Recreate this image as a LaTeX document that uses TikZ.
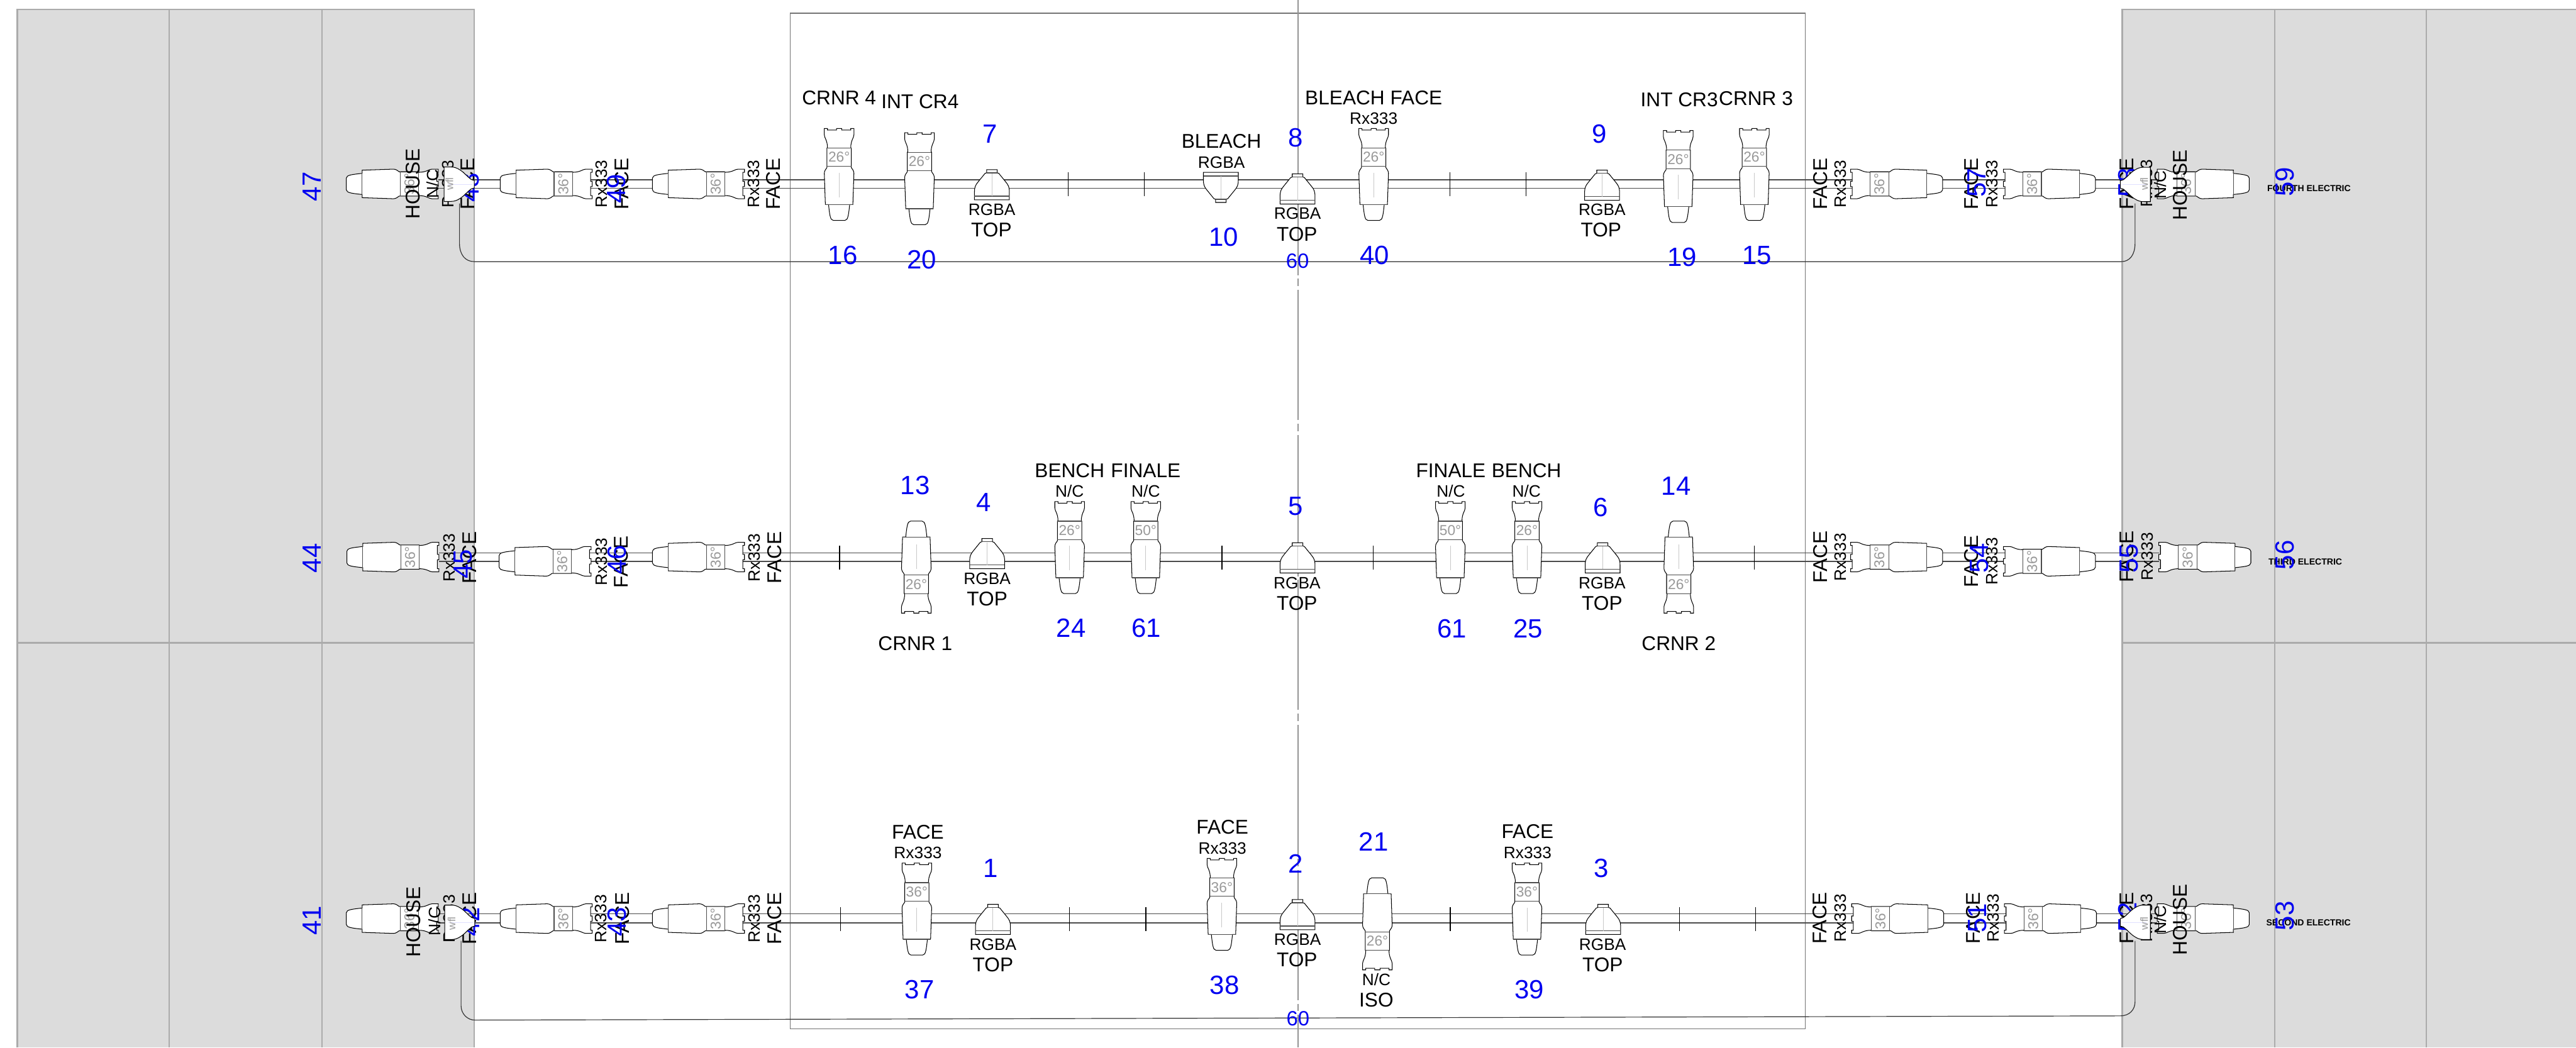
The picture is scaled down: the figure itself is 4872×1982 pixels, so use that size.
\documentclass[tikz,border=0pt]{standalone}
\usepackage{fontspec}
\setmainfont{Liberation Sans}
\definecolor{zone}{HTML}{DCDCDC}
\definecolor{zoneline}{HTML}{ABABAB}
\definecolor{anglegray}{HTML}{999999}
\definecolor{axisgray}{HTML}{C8C8C8}
\definecolor{railcol}{HTML}{4A4A4A}
\definecolor{numblue}{HTML}{0000F0}
\tikzset{
  zonediv/.style={draw=zoneline,line width=0.85pt},
  stagebox/.style={draw=black!55,line width=0.35pt},
  centreline/.style={draw=black!42,line width=0.6pt,dash pattern=on 70pt off 2pt on 4pt off 2pt},
  cableline/.style={draw=black!80,line width=0.4pt},
  railline/.style={draw=railcol,line width=0.45pt},
  tickline/.style={draw=black,line width=0.45pt},
  fixbody/.style={fill=white,draw=black,line width=0.35pt},
  fixrib/.style={draw=black!70,line width=0.4pt},
  txtbase/.style={inner sep=0pt,outer sep=0pt,text=black},
  big/.style={txtbase,font=\fontsize{10.7}{12}\selectfont},
  small/.style={txtbase,font=\fontsize{8.9}{10}\selectfont},
  bigr/.style={big,rotate=90},
  smallr/.style={small,rotate=90},
  num/.style={txtbase,text=numblue,font=\fontsize{14.2}{16}\selectfont},
  numr/.style={num,rotate=90},
  numsmall/.style={txtbase,text=numblue,font=\fontsize{11.1}{13}\selectfont},
  elecname/.style={txtbase,font=\fontsize{4.75}{6}\bfseries\selectfont},
  anglelabel/.style={inner sep=0pt,outer sep=0pt,text=anglegray,font=\fontsize{7.7}{9}\selectfont},
  wfllabel/.style={inner sep=0pt,outer sep=0pt,text=anglegray,font=\fontsize{5.7}{7}\selectfont,rotate=90},
}
\newcounter{lab}
\newcommand{\putlabel}[4]{\stepcounter{lab}\node[#1] (lab\arabic{lab}) at (#2,#3) {#4};}
% moving light: x, y of yoke end, rotation, beam angle, text rotation, axis colour
\newcommand{\fixt}[6]{%
  \stepcounter{lab}%
  \begin{scope}[shift={(#1,#2)},rotate=#3]
    \draw[fixbody] (-28,0)--(-22,0)--(-22,3)--(-5,3)--(-5,0)--(5,0)--(5,3)--(22,3)--(22,0)--(28,0)--(28,12)
      .. controls (28,18) and (22,22) .. (22,37) -- (23,37) -- (23,74)
      .. controls (25,77) and (28,80) .. (28,85) -- (26,144) -- (20,144)
      .. controls (18,162) and (17,174) .. (11,174) -- (-11,174)
      .. controls (-17,174) and (-18,162) .. (-20,144) -- (-26,144) -- (-28,85)
      .. controls (-28,80) and (-25,77) .. (-23,74) -- (-23,37) -- (-22,37)
      .. controls (-22,22) and (-28,18) .. (-28,12) -- cycle;
    \draw[fixrib] (-23,37)--(23,37) (-23,72)--(23,72) (-26,144)--(26,144);
    \draw[draw=#6,line width=0.3pt] (0,84)--(0,130);
    \node[anglelabel,rotate=#5] (lab\arabic{lab}) at (0,54.5) {#4};
  \end{scope}}
% top light: x, y of neck end, rotation
\newcommand{\topfix}[3]{%
  \begin{scope}[shift={(#1,#2)},rotate=#3]
    \draw[fixbody] (-10,0)--(10,0)--(10,6)--(13,7)--(26,23)
      .. controls (31,29) and (33,33) .. (33,42) -- (33,57) -- (-33,57) -- (-33,42)
      .. controls (-33,33) and (-31,29) .. (-26,23) -- (-13,7) -- (-10,6) -- cycle;
    \draw[fixrib] (-33,50)--(33,50) (-10,6)--(10,6);
    \draw[draw=axisgray,line width=0.3pt] (0,7)--(0,50);
  \end{scope}}
% wfl unit: x, y of nose end, rotation
\newcommand{\wflfix}[3]{%
  \begin{scope}[shift={(#1,#2)},rotate=#3]
    \draw[fixbody] (-7,0)--(7,0)--(9,6)
      .. controls (14,13) and (22,19) .. (27,27)
      .. controls (31,33) and (32.5,38) .. (32.5,44) -- (32.5,57) -- (-32.5,57) -- (-32.5,44)
      .. controls (-32.5,38) and (-31,33) .. (-27,27)
      .. controls (-22,19) and (-14,13) .. (-9,6) -- cycle;
    \draw[draw=blue!12,line width=0.3pt] (0,4)--(0,50);
  \end{scope}}
\begin{document}
\begin{tikzpicture}[x=0.01cm,y=-0.01cm]
\useasboundingbox (0,0) rectangle (4872,1982);
% house zones
\fill[zone] (32.5,18) rectangle (897,1982);
\fill[zone] (4013.5,18) rectangle (4872,1982);
\draw[zonediv] (32.5,1982)--(32.5,18)--(897,18)--(897,1982);
\draw[zonediv] (320,18)--(320,1982) (609,18)--(609,1982);
\draw[zonediv] (32.5,1216)--(897,1216);
\draw[zonediv] (4872,18)--(4013.5,18)--(4013.5,1982);
\draw[zonediv] (4302,18)--(4302,1982) (4589,18)--(4589,1982);
\draw[zonediv] (4013.5,1216)--(4872,1216);
% stage box
\draw[stagebox] (1494,25) rectangle (3414,1946);
% cables
\coordinate (cTL) at (869,385); \coordinate (cTR) at (4038,385);
\coordinate (cBL) at (872,1780); \coordinate (cBR) at (4038,1780);
\draw[cableline] (cTL) -- (869,460) .. controls (869,482) and (880,495) .. (897,495) -- (4012,495) .. controls (4028,495) and (4038,482) .. (4038,460) -- (cTR);
\draw[cableline] (cBL) -- (872,1903) .. controls (872,1918) and (884,1930) .. (898,1930) -- (4010,1922) .. controls (4028,1922) and (4038,1910) .. (4038,1895) -- (cBR);
% centre line
\draw[centreline] (2455,0)--(2455,1982);
% rails
\coordinate (rTa) at (829,340); \coordinate (rTb) at (4080,340);
\coordinate (rTc) at (829,356); \coordinate (rTd) at (4080,356);
\coordinate (rMa) at (830,1046); \coordinate (rMb) at (4083,1046);
\coordinate (rMc) at (830,1062); \coordinate (rMd) at (4083,1062);
\coordinate (rBa) at (829,1729); \coordinate (rBb) at (4080,1729);
\coordinate (rBc) at (829,1746); \coordinate (rBd) at (4080,1746);
\draw[railline] (rTa)--(rTb) (rTc)--(rTd) (rMa)--(rMb) (rMc)--(rMd) (rBa)--(rBb) (rBc)--(rBd);
% ticks
\foreach \tx in {2020,2164,2742,2886} {\draw[tickline] (\tx,326)--(\tx,371);}
\foreach \tx in {1588,2311,2597,3318} {\draw[tickline] (\tx,1032)--(\tx,1078);}
\foreach \tx in {1590,2023,2167,2743,3176,3320} {\draw[tickline] (\tx,1716)--(\tx,1761);}
% top row fixtures
\fixt{1587}{243}{0}{26°}{0}{axisgray}
\fixt{1739}{251}{0}{26°}{0}{white}
\fixt{2598}{243}{0}{26°}{0}{axisgray}
\fixt{3174}{247}{0}{26°}{0}{axisgray}
\fixt{3318}{243}{0}{26°}{0}{axisgray}
\topfix{1876}{321}{0}
\topfix{2309}{383}{180}
\topfix{2454}{329}{0}
\topfix{3030}{322}{0}
\foreach \fx in {829,1120,1408} {\fixt{\fx}{348}{-90}{36°}{90}{white}}
\foreach \fx in {3500,3789,4080} {\fixt{\fx}{348}{90}{36°}{90}{white}}
% middle row fixtures
\fixt{1733}{1160}{180}{26°}{0}{axisgray}
\fixt{2023}{949}{0}{26°}{0}{axisgray}
\fixt{2167}{949}{0}{50°}{0}{axisgray}
\fixt{2743}{949}{0}{50°}{0}{axisgray}
\fixt{2888}{949}{0}{26°}{0}{axisgray}
\fixt{3175}{1160}{180}{26°}{0}{axisgray}
\topfix{1867}{1019}{0}
\topfix{2454}{1027}{0}
\topfix{3031}{1027}{0}
\fixt{830}{1054}{-90}{36°}{90}{white}
\fixt{1118}{1062}{-90}{36°}{90}{white}
\fixt{1408}{1054}{-90}{36°}{90}{white}
\fixt{3500}{1054}{90}{36°}{90}{white}
\fixt{3789}{1062}{90}{36°}{90}{white}
\fixt{4083}{1054}{90}{36°}{90}{white}
% bottom row fixtures
\fixt{1734}{1633}{0}{36°}{0}{axisgray}
\fixt{2311}{1624}{0}{36°}{0}{axisgray}
\fixt{2605}{1835}{180}{26°}{0}{white}
\fixt{2888}{1633}{0}{36°}{0}{axisgray}
\topfix{1878}{1711}{0}
\topfix{2454}{1702}{0}
\topfix{3032}{1711}{0}
\foreach \fx in {829,1120,1408} {\fixt{\fx}{1738}{-90}{36°}{90}{white}}
\foreach \fx in {3502,3791,4080} {\fixt{\fx}{1738}{90}{36°}{90}{white}}
% top row labels
\putlabel{big}{1587}{185}{CRNR 4}
\putlabel{big}{1740}{192}{INT CR4}
\putlabel{big}{2310}{267}{BLEACH}
\putlabel{big}{2598}{185}{BLEACH FACE}
\putlabel{big}{3176}{189}{INT CR3}
\putlabel{big}{3321}{186}{CRNR 3}
\putlabel{small}{2310}{307}{RGBA}
\putlabel{small}{2598}{224}{Rx333}
\putlabel{small}{1876}{397}{RGBA}
\putlabel{big}{1875}{435}{TOP}
\putlabel{small}{2454}{404}{RGBA}
\putlabel{big}{2453}{443}{TOP}
\putlabel{small}{3030}{397}{RGBA}
\putlabel{big}{3028}{435}{TOP}
\putlabel{bigr}{781}{348}{HOUSE}
\putlabel{smallr}{818}{348}{N/C}
\putlabel{smallr}{848}{348}{Rx333}
\putlabel{bigr}{885}{348}{FACE}
\putlabel{smallr}{1138}{348}{Rx333}
\putlabel{bigr}{1176}{348}{FACE}
\putlabel{smallr}{1425}{348}{Rx333}
\putlabel{bigr}{1462}{348}{FACE}
\putlabel{bigr}{3442.5}{348}{FACE}
\putlabel{smallr}{3481}{348}{Rx333}
\putlabel{bigr}{3729}{348}{FACE}
\putlabel{smallr}{3768}{348}{Rx333}
\putlabel{bigr}{4022}{348}{FACE}
\putlabel{smallr}{4060}{347}{Rx333}
\putlabel{smallr}{4086}{350}{N/C}
\putlabel{bigr}{4123}{350}{HOUSE}
\putlabel{elecname}{4367}{357}{FOURTH ELECTRIC}
% middle row labels
\putlabel{big}{2023}{891}{BENCH}
\putlabel{big}{2167}{891}{FINALE}
\putlabel{small}{2023}{929}{N/C}
\putlabel{small}{2167}{929}{N/C}
\putlabel{big}{2744}{891}{FINALE}
\putlabel{big}{2887}{891}{BENCH}
\putlabel{small}{2744}{929}{N/C}
\putlabel{small}{2887}{929}{N/C}
\putlabel{small}{1867}{1095}{RGBA}
\putlabel{big}{1867}{1133}{TOP}
\putlabel{small}{2453}{1103}{RGBA}
\putlabel{big}{2453}{1141}{TOP}
\putlabel{small}{3030}{1103}{RGBA}
\putlabel{big}{3030}{1141}{TOP}
\putlabel{big}{1731}{1217}{CRNR 1}
\putlabel{big}{3175}{1218}{CRNR 2}
\putlabel{smallr}{849.5}{1055}{Rx333}
\putlabel{bigr}{888}{1055}{FACE}
\putlabel{smallr}{1138}{1063}{Rx333}
\putlabel{bigr}{1175}{1063}{FACE}
\putlabel{smallr}{1427}{1055}{Rx333}
\putlabel{bigr}{1465}{1055}{FACE}
\putlabel{bigr}{3442.5}{1054}{FACE}
\putlabel{smallr}{3481}{1054}{Rx333}
\putlabel{bigr}{3729}{1062}{FACE}
\putlabel{smallr}{3768}{1062}{Rx333}
\putlabel{bigr}{4022}{1053}{FACE}
\putlabel{smallr}{4061}{1053}{Rx333}
\putlabel{elecname}{4360}{1063}{THIRD ELECTRIC}
% bottom row labels
\putlabel{big}{1736}{1574}{FACE}
\putlabel{small}{1736}{1613}{Rx333}
\putlabel{big}{2312}{1565}{FACE}
\putlabel{small}{2312}{1605}{Rx333}
\putlabel{big}{2889}{1573}{FACE}
\putlabel{small}{2889}{1613}{Rx333}
\putlabel{small}{1878}{1787}{RGBA}
\putlabel{big}{1878}{1825}{TOP}
\putlabel{small}{2454}{1778}{RGBA}
\putlabel{big}{2453}{1816}{TOP}
\putlabel{small}{3031}{1787}{RGBA}
\putlabel{big}{3031}{1825}{TOP}
\putlabel{small}{2603}{1853}{N/C}
\putlabel{big}{2603}{1892}{ISO}
\putlabel{bigr}{782}{1744}{HOUSE}
\putlabel{smallr}{822}{1743}{N/C}
\putlabel{smallr}{850}{1738}{Rx333}
\putlabel{bigr}{888}{1738}{FACE}
\putlabel{smallr}{1137}{1738}{Rx333}
\putlabel{bigr}{1177}{1738}{FACE}
\putlabel{smallr}{1427}{1738}{Rx333}
\putlabel{bigr}{1465}{1738}{FACE}
\putlabel{bigr}{3442}{1737}{FACE}
\putlabel{smallr}{3481}{1737}{Rx333}
\putlabel{bigr}{3732}{1737}{FACE}
\putlabel{smallr}{3770}{1737}{Rx333}
\putlabel{bigr}{4022}{1737}{FACE}
\putlabel{smallr}{4060}{1737}{Rx333}
\putlabel{smallr}{4086}{1740}{N/C}
\putlabel{bigr}{4123}{1740}{HOUSE}
\putlabel{elecname}{4366}{1746}{SECOND ELECTRIC}
% channel numbers, top row
\putlabel{num}{1872}{253}{7}
\putlabel{num}{2450}{261}{8}
\putlabel{num}{3025}{253}{9}
\putlabel{num}{2314}{449}{10}
\putlabel{num}{1594}{483}{16}
\putlabel{num}{1743}{491}{20}
\putlabel{num}{2600}{483}{40}
\putlabel{num}{3181}{486}{19}
\putlabel{num}{3323}{483}{15}
\putlabel{numsmall}{2454}{494}{60}
\putlabel{numr}{590}{353}{47}
\putlabel{numr}{888}{355}{48}
\putlabel{numr}{1166}{357}{49}
\putlabel{numr}{3739}{345}{57}
\putlabel{numr}{4024}{345}{58}
\putlabel{numr}{4321}{344}{59}
% channel numbers, middle row
\putlabel{num}{1731}{918}{13}
\putlabel{num}{1861}{951}{4}
\putlabel{num}{2450}{958}{5}
\putlabel{num}{3027}{960}{6}
\putlabel{num}{3170}{920}{14}
\putlabel{num}{2026}{1188}{24}
\putlabel{num}{2168}{1188}{61}
\putlabel{num}{2746}{1190}{61}
\putlabel{num}{2890}{1190}{25}
\putlabel{numr}{590}{1056}{44}
\putlabel{numr}{876}{1067}{45}
\putlabel{numr}{1167}{1059}{46}
\putlabel{numr}{3744}{1056}{54}
\putlabel{numr}{4027}{1057}{55}
\putlabel{numr}{4321}{1050}{56}
% channel numbers, bottom row
\putlabel{num}{1874}{1643}{1}
\putlabel{num}{2450}{1634}{2}
\putlabel{num}{3028}{1643}{3}
\putlabel{num}{2598}{1593}{21}
\putlabel{num}{1739}{1872}{37}
\putlabel{num}{2316}{1864}{38}
\putlabel{num}{2892}{1872}{39}
\putlabel{numsmall}{2455}{1927}{60}
\putlabel{numr}{590}{1742}{41}
\putlabel{numr}{890}{1744}{42}
\putlabel{numr}{1167}{1744}{43}
\putlabel{numr}{3740}{1737}{51}
\putlabel{numr}{4024}{1735}{52}
\putlabel{numr}{4321}{1733}{53}
% wfl units over everything near the zone edge
\wflfix{897}{348.5}{-90}
\wflfix{898}{1745}{-90}
\wflfix{4010}{349}{90}
\wflfix{4010}{1745}{90}
\putlabel{wfllabel}{850}{348}{wfl}
\putlabel{wfllabel}{854}{1747}{wfl}
\putlabel{wfllabel}{4055}{348}{wfl}
\putlabel{wfllabel}{4055}{1747}{wfl}
\end{tikzpicture}
\end{document}
